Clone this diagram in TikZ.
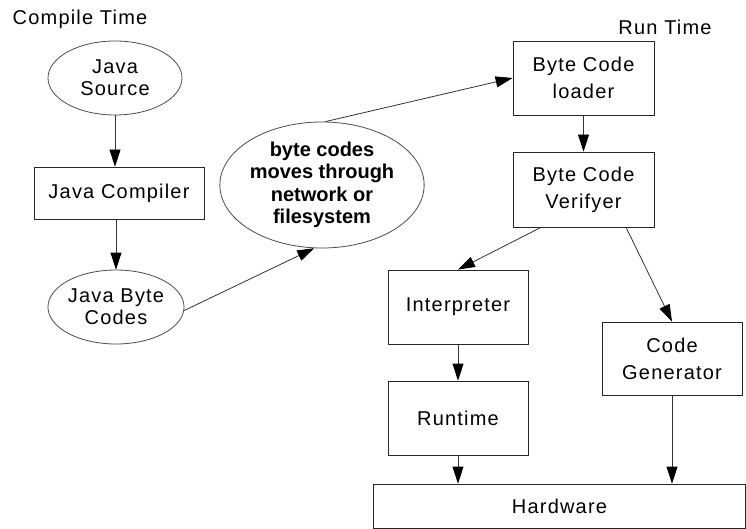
\documentclass[tikz,border=0pt]{standalone}
\usepackage{fontspec}
\setmainfont{Liberation Sans}[LetterSpace=6]
\newfontfamily\plainsans{Liberation Sans}
\usetikzlibrary{shapes.geometric,arrows.meta,calc}
\begin{document}
\begin{tikzpicture}[x=1pt,y=-1pt,
  lbl/.style={inner sep=0pt,font=\fontsize{20}{24}\selectfont},
  boxnode/.style={draw=black!85,line width=0.8pt,rectangle,inner sep=0pt,align=center,
    font=\fontsize{20}{27}\selectfont},
  ellnode/.style={draw=black!70,line width=0.8pt,ellipse,inner sep=0pt,align=center,
    font=\fontsize{20}{22}\selectfont},
  conn/.style={draw=black!80,line width=0.8pt,-{Triangle[length=17pt,width=11pt,color=black]}}
]
\useasboundingbox (0,0) rectangle (746,529);
\fill[white] (0,0) rectangle (746,529);

\node[lbl] (cmp) at (80,19) {Compile Time};
\node[lbl] (rt) at (665,27) {Run Time};

\node[ellnode,minimum width=134pt,minimum height=74pt] (src) at (115,78) {Java\\Source};
\node[boxnode,minimum width=170pt,minimum height=52pt] (comp) at (119,193) {Java Compiler};
\node[ellnode,minimum width=134pt,minimum height=74pt] (jbc) at (116,307) {Java Byte\\Codes};
\node[ellnode,minimum width=178pt,minimum height=126pt,font=\plainsans\bfseries\fontsize{20}{22.5}\selectfont] (net) at (322,185) {byte codes\\moves through\\network or\\filesystem};

\node[boxnode,minimum width=141pt,minimum height=74pt] (load) at (583.5,78) {Byte Code\\loader};
\node[boxnode,minimum width=141pt,minimum height=75pt] (ver) at (583.5,189.5) {Byte Code\\Verifyer};
\node[boxnode,minimum width=140pt,minimum height=74pt] (interp) at (458,307) {Interpreter};
\node[boxnode,minimum width=140pt,minimum height=74pt] (runt) at (458,418) {Runtime};
\node[boxnode,minimum width=140pt,minimum height=73pt] (cg) at (672,358.5) {Code\\Generator};
\node[boxnode,minimum width=372pt,minimum height=44pt] (hw) at (559.5,506) {Hardware};

\draw[conn] (src.south) -- (src.south |- comp.north);
\draw[conn] (jbc.north |- comp.south) -- (jbc.north);
\draw[conn] (jbc.-3) -- (net.-97);
\draw[conn] (net.87) -- (load.west);
\draw[conn] (load.south) -- (ver.north);
\coordinate (v1) at ($(ver.south west)!0.2!(ver.south east)$);
\coordinate (v2) at ($(ver.south west)!0.8!(ver.south east)$);
\draw[conn] (v1) -- (interp.north);
\draw[conn] (v2) -- (cg.north);
\draw[conn] (interp.south) -- (runt.north);
\draw[conn] (runt.south) -- (runt.south |- hw.north);
\draw[conn] (cg.south) -- (cg.south |- hw.north);
\end{tikzpicture}
\end{document}
